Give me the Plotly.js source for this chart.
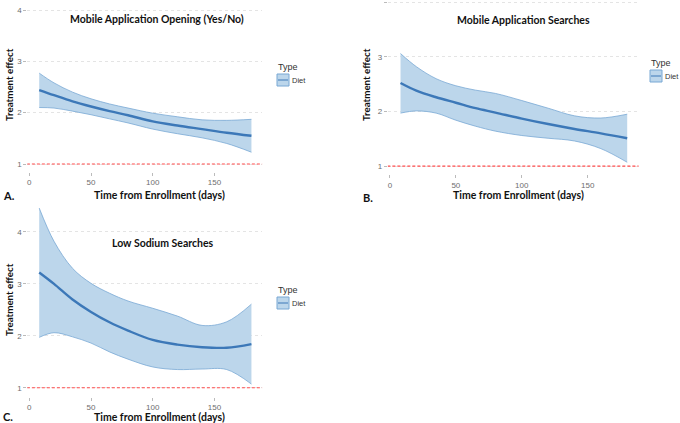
<!DOCTYPE html>
<html>
<head>
<meta charset="utf-8">
<script src="https://cdn.plot.ly/plotly-3.0.1.min.js"></script>
<style>
  html, body { margin: 0; padding: 0; background: #fff; }
  #chart { width: 680px; height: 423px; }
</style>
</head>
<body>
<div id="chart"></div>
<script>
// Time from enrollment (days) at which the smoothed effect is evaluated
const days = [8, 20, 35, 50, 65, 80, 100, 120, 140, 160, 180];

// A. Mobile Application Opening (Yes/No)
const openFit   = [2.44, 2.34, 2.22, 2.12, 2.03, 1.95, 1.83, 1.75, 1.68, 1.61, 1.55];
const openUpper = [2.77, 2.58, 2.40, 2.27, 2.17, 2.09, 1.99, 1.92, 1.86, 1.85, 1.87];
const openLower = [2.10, 2.09, 2.03, 1.96, 1.88, 1.80, 1.68, 1.59, 1.51, 1.40, 1.23];

// B. Mobile Application Searches
const searchFit   = [2.52, 2.38, 2.26, 2.16, 2.06, 1.98, 1.87, 1.77, 1.68, 1.60, 1.51];
const searchUpper = [3.06, 2.82, 2.60, 2.47, 2.39, 2.33, 2.20, 2.06, 1.92, 1.88, 1.95];
const searchLower = [1.97, 2.01, 1.97, 1.84, 1.73, 1.64, 1.56, 1.51, 1.46, 1.32, 1.07];

// C. Low Sodium Searches
const sodiumFit   = [3.22, 3.00, 2.70, 2.46, 2.26, 2.10, 1.92, 1.83, 1.78, 1.77, 1.84];
const sodiumUpper = [4.46, 3.82, 3.30, 3.01, 2.82, 2.67, 2.53, 2.38, 2.20, 2.27, 2.61];
const sodiumLower = [1.97, 2.06, 1.98, 1.86, 1.69, 1.55, 1.40, 1.35, 1.36, 1.35, 1.07];

const reference = [1, 1];          // no-effect line
const refDays = [-2, 190];

const panelTitles = ['Mobile Application Opening (Yes/No)', 'Mobile Application Searches', 'Low Sodium Searches'];
const panelLetters = ['A.', 'B.', 'C.'];
const yTicks = [1, 2, 3, 4];
const xTicks = [0, 50, 100, 150];

const W = 680, H = 423;
const fx = p => p / W;           // pixel -> paper x
const fy = p => 1 - p / H;       // pixel -> paper y

const FILL = '#bcd6eb';
const EDGE = '#78a8d4';
const LINE = '#3c78b8';
const REF = '#ff4d4d';

const panels = [
  {fit: openFit,   up: openUpper,   lo: openLower,   xa: 'x',  ya: 'y'},
  {fit: searchFit, up: searchUpper, lo: searchLower, xa: 'x2', ya: 'y2'},
  {fit: sodiumFit, up: sodiumUpper, lo: sodiumLower, xa: 'x3', ya: 'y3'}
];

const traces = [];
panels.forEach(p => {
  traces.push({x: refDays, y: reference, xaxis: p.xa, yaxis: p.ya, mode: 'lines',
    line: {color: REF, width: 1.1, dash: '3px,2px'}, hoverinfo: 'skip', showlegend: false});
  traces.push({x: days, y: p.up, xaxis: p.xa, yaxis: p.ya, mode: 'lines',
    line: {color: EDGE, width: 0.8, shape: 'spline'}, showlegend: false});
  traces.push({x: days, y: p.lo, xaxis: p.xa, yaxis: p.ya, mode: 'lines', fill: 'tonexty',
    fillcolor: FILL, line: {color: EDGE, width: 0.8, shape: 'spline'}, showlegend: false});
  traces.push({x: days, y: p.fit, xaxis: p.xa, yaxis: p.ya, mode: 'lines', name: 'Diet',
    line: {color: LINE, width: 2.4, shape: 'spline'}, showlegend: false});
});

const tickFont = {family: 'Liberation Sans, Arial, sans-serif', size: 8, color: '#6e6e6e'};
function xAxis(left, right) {
  return {domain: [fx(left), fx(right)], range: [-1.65, 188.65], tickvals: xTicks,
    showgrid: false, zeroline: false, showline: false, ticks: 'outside', ticklen: 3,
    tickcolor: '#bbbbbb', tickfont: tickFont, fixedrange: true};
}
function yAxis(top, bottom, range) {
  return {domain: [fy(bottom), fy(top)], range: range, tickvals: yTicks,
    showgrid: true, gridcolor: '#e4e4e4', griddash: 'dot', gridwidth: 1,
    zeroline: false, showline: false, ticks: 'outside', ticklen: 3,
    tickcolor: '#bbbbbb', tickfont: tickFont, fixedrange: true};
}

const boldFont = (size) => ({family: 'Lato, Open Sans, sans-serif', size: size, color: '#111111', weight: 700});

const annotations = [];
const shapes = [];

// panel titles
[[157, 19], [523, 20], [163, 243]].forEach((c, i) => {
  annotations.push({text: '<b>' + panelTitles[i] + '</b>', x: fx(c[0]), y: fy(c[1]), xref: 'paper', yref: 'paper',
    showarrow: false, xanchor: 'center', yanchor: 'middle', font: boldFont(10.5)});
});
// x-axis titles
[[159, 195], [518, 195], [159, 417]].forEach(c => {
  annotations.push({text: '<b>Time from Enrollment (days)</b>', x: fx(c[0]), y: fy(c[1]), xref: 'paper', yref: 'paper',
    showarrow: false, xanchor: 'center', yanchor: 'middle', font: boldFont(10.5)});
});
// y-axis titles
[[9, 85], [366, 85], [9, 300]].forEach(c => {
  annotations.push({text: '<b>Treatment effect</b>', x: fx(c[0]), y: fy(c[1]), xref: 'paper', yref: 'paper',
    showarrow: false, textangle: -90, xanchor: 'center', yanchor: 'middle', font: boldFont(9.8)});
});
// panel letters
[[1, 195], [361, 197], [1, 416]].forEach((c, i) => {
  annotations.push({text: '<b>' + panelLetters[i] + '</b>', x: fx(c[0]), y: fy(c[1]), xref: 'paper', yref: 'paper',
    showarrow: false, xanchor: 'left', yanchor: 'middle', font: boldFont(11)});
});
// legends: title, key and label
[[276, 67], [649, 63], [276, 290]].forEach(c => {
  const lx = c[0], ly = c[1];
  annotations.push({text: 'Type', x: fx(lx), y: fy(ly), xref: 'paper', yref: 'paper', showarrow: false,
    xanchor: 'left', yanchor: 'middle', font: {family: 'Liberation Sans, Arial, sans-serif', size: 9, color: '#333333'}});
  const ky = ly + 13;
  shapes.push({type: 'rect', xref: 'paper', yref: 'paper', x0: fx(lx + 1), x1: fx(lx + 13), y0: fy(ky - 6), y1: fy(ky + 6),
    fillcolor: FILL, line: {color: EDGE, width: 1}});
  shapes.push({type: 'line', xref: 'paper', yref: 'paper', x0: fx(lx + 2), x1: fx(lx + 12), y0: fy(ky), y1: fy(ky),
    line: {color: LINE, width: 1}});
  annotations.push({text: 'Diet', x: fx(lx + 14), y: fy(ky), xref: 'paper', yref: 'paper', showarrow: false,
    xanchor: 'left', yanchor: 'middle', font: {family: 'Liberation Sans, Arial, sans-serif', size: 7.5, color: '#333333'}});
});

const layout = {
  width: W, height: H,
  margin: {l: 0, r: 0, t: 0, b: 0},
  paper_bgcolor: '#ffffff', plot_bgcolor: '#ffffff',
  showlegend: false,
  xaxis: xAxis(27.3, 262.1),
  yaxis: yAxis(2.3, 171.7, [0.85, 4.15]),
  xaxis2: Object.assign(xAxis(387.8, 638.6), {anchor: 'y2'}),
  yaxis2: Object.assign(yAxis(0, 174.3, [0.85, 4.04]), {anchor: 'x2'}),
  xaxis3: Object.assign(xAxis(27.3, 262.1), {anchor: 'y3'}),
  yaxis3: Object.assign(yAxis(199.1, 396.7, [0.827, 4.633]), {anchor: 'x3'}),
  annotations: annotations,
  shapes: shapes
};

Plotly.newPlot('chart', traces, layout, {staticPlot: true, displayModeBar: false});
</script>
</body>
</html>
